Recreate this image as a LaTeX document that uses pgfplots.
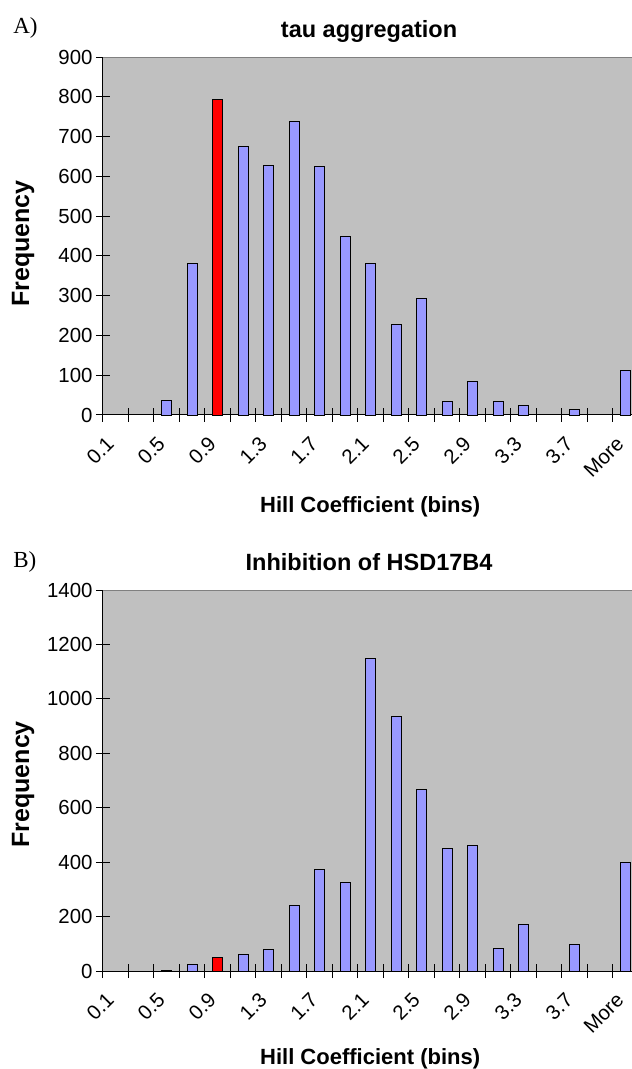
\documentclass[border=0pt]{standalone}
\usepackage{fontspec}
\setmainfont{Liberation Sans}
\newfontfamily\timesfont{Liberation Serif}
\usepackage{pgfplots}
\pgfplotsset{compat=1.18}
\definecolor{barblue}{RGB}{153,153,255}
\definecolor{bggray}{RGB}{192,192,192}
\pgfplotsset{histo/.style={
  scale only axis, width=529pt, clip=false,
  xmin=-0.5, xmax=20.25, ymin=0,
  axis x line*=bottom, axis y line*=left,
  axis line style={black, line width=1pt},
  axis background/.style={fill=bggray},
  xtick={-0.5,0.5,...,19.5},
  xticklabels={0.1,,0.5,,0.9,,1.3,,1.7,,2.1,,2.5,,2.9,,3.3,,3.7,,More},
  tick align=center,
  major tick length=14pt,
  tick style={black, line width=1pt},
  x tick label style={rotate=45, anchor=north east, inner sep=0pt, font=\fontsize{20.4}{24}\selectfont, xshift=-8pt, yshift=-11pt},
  y tick label style={font=\fontsize{20.4}{24}\selectfont, /pgf/number format/1000 sep={}, /pgf/number format/assume math mode=true},
  every axis y label/.style={rotate=90, anchor=center, font=\bfseries\fontsize{25}{28}\selectfont},
  every axis x label/.style={anchor=base, font=\bfseries\fontsize{22}{26}\selectfont},
  xlabel={Hill Coefficient (bins)},
  ylabel={Frequency},
  every axis title/.style={at={(axis description cs:0.503,1)}, anchor=base, yshift=20pt, font=\bfseries\fontsize{23.5}{27}\selectfont},
  every axis plot/.append style={ybar, bar width=0.39, bar shift=0pt, draw=black, line width=0.9pt},
}}
\pgfplotstableread{
x y
2 36
3 381
5 676
6 627
7 739
8 624
9 450
10 381
11 228
12 293
13 33
14 85
15 33
16 24
18 14
20 113
}\tauA
\pgfplotstableread{
x y
4 793
}\tauRed
\pgfplotstableread{
x y
2 3
3 23
5 61
6 80
7 242
8 372
9 327
10 1148
11 935
12 668
13 451
14 463
15 83
16 171
18 97
20 399
}\hsdB
\pgfplotstableread{
x y
4 50
}\hsdRed
\begin{document}
\begin{tikzpicture}
\path[use as bounding box] (0,0) rectangle (632pt,-1069pt);
\begin{axis}[histo, at={(103pt,-57pt)}, anchor=north west, height=358pt,
  ymax=900, ytick={0,100,...,900},
  title={tau aggregation},
  ylabel style={at={(axis description cs:-0.151,0.479)}},
  xlabel style={at={(axis description cs:0.505,0)}, yshift=-97pt}]
\addplot[fill=barblue] table[x=x,y=y] {\tauA};
\addplot[fill=red] table[x=x,y=y] {\tauRed};
\draw[gray, line width=1pt] (axis description cs:0,1) -- (axis description cs:1,1);
\node[font={\fontsize{23}{26}\selectfont\timesfont}, anchor=base west, inner sep=0pt] at (axis description cs:-0.170,1.0665) {A)};
\end{axis}
\begin{axis}[histo, at={(103pt,-590pt)}, anchor=north west, height=381pt,
  ymax=1400, ytick={0,200,...,1400},
  title={Inhibition of HSD17B4},
  ylabel style={at={(axis description cs:-0.151,0.49)}},
  xlabel style={at={(axis description cs:0.505,0)}, yshift=-93pt}]
\addplot[fill=barblue] table[x=x,y=y] {\hsdB};
\addplot[fill=red] table[x=x,y=y] {\hsdRed};
\draw[gray, line width=1pt] (axis description cs:0,1) -- (axis description cs:1,1);
\node[font={\fontsize{23}{26}\selectfont\timesfont}, anchor=base west, inner sep=0pt] at (axis description cs:-0.170,1.0598) {B)};
\end{axis}
\end{tikzpicture}
\end{document}
